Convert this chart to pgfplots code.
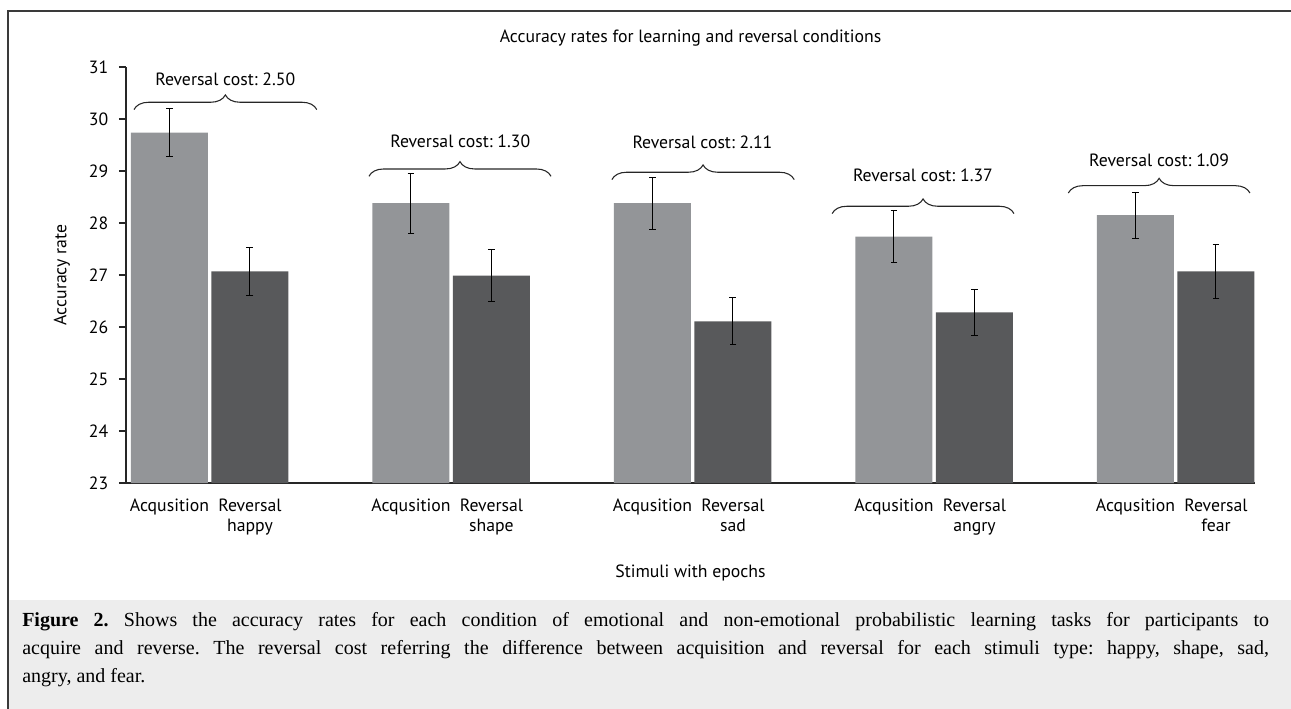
\documentclass[border=0pt]{standalone}
\usepackage{fontspec}
\setmainfont{Liberation Serif}
\newfontfamily\chartfont{PT Sans}
\usepackage{pgfplots}
\pgfplotsset{compat=1.18}
\usetikzlibrary{decorations.pathreplacing}
\definecolor{acq}{HTML}{939598}
\definecolor{rev}{HTML}{58595B}
\definecolor{capbg}{HTML}{EDEDED}
\definecolor{framec}{HTML}{3A3A3A}
\newcommand{\cf}{\chartfont\fontsize{13.3}{15}\selectfont}
\frenchspacing
\begin{document}
\begin{tikzpicture}
\begin{scope}[x=0.75pt,y=-0.75pt]
\useasboundingbox (0,0) rectangle (1291,709);
\fill[capbg] (8,600) rectangle (1291,709);
\draw[framec, line width=1pt] (8,709) -- (8,11) -- (1291,11);
\node[anchor=base west, inner sep=0pt, text width=935pt, align=justify, font=\fontsize{15}{21}\selectfont] at (22,626) {\textbf{Figure 2.} Shows the accuracy rates for each condition of emotional and non-emotional probabilistic learning tasks for participants to\linebreak acquire and reverse. The reversal cost referring the difference between acquisition and reversal for each stimuli type: happy, shape, sad,\linebreak angry, and fear.};
\end{scope}
\begin{axis}[
  at={(94.5pt,-362.25pt)}, anchor=south west,
  scale only axis, width=846.75pt, height=312pt,
  xmin=-0.18, xmax=4.495, ymin=23, ymax=31,
  axis x line*=bottom, axis y line*=left,
  axis line style={-, draw=black!85, line width=0.9pt},
  ytick={23,24,25,26,27,28,29,30,31},
  xtick={0,0.3333,1,1.3333,2,2.3333,3,3.3333,4,4.3333},
  xticklabels={Acqusition,{Reversal\\happy},Acqusition,{Reversal\\shape},Acqusition,{Reversal\\sad},Acqusition,{Reversal\\angry},Acqusition,{Reversal\\fear}},
  x tick style={draw=none},
  y tick style={draw=black!85, line width=0.9pt},
  tick align=outside, major tick length=5.25pt,
  tick label style={font=\cf},
  /pgf/number format/assume math mode=true,
  yticklabel style={xshift=-4.5pt},
  xticklabel style={align=center, yshift=-3pt},
  title={Accuracy rates for learning and reversal conditions},
  title style={font=\chartfont\fontsize{13.3}{15}\selectfont, at={(rel axis cs:0.5,1)}, anchor=base, yshift=12pt},
  xlabel={Stimuli with epochs},
  xlabel style={font=\cf, at={(rel axis cs:0.5,0)}, anchor=center, yshift=-67.5pt},
  ylabel={Accuracy rate},
  ylabel style={font=\cf, at={(axis description cs:-0.0567,0.5)}, anchor=center, rotate=0},
]
\addplot[ybar, bar width=0.319, fill=acq, draw=none,
  error bars/.cd, y dir=both, y explicit,
  error bar style={black, line width=0.75pt},
  error mark options={rotate=90, mark size=2.6pt, black, line width=0.75pt}]
  coordinates {(0,29.74) +- (0,0.46) (1,28.38) +- (0,0.575) (2,28.38) +- (0,0.50) (3,27.74) +- (0,0.505) (4,28.15) +- (0,0.445)};
\addplot[ybar, bar width=0.319, fill=rev, draw=none,
  error bars/.cd, y dir=both, y explicit,
  error bar style={black, line width=0.75pt},
  error mark options={rotate=90, mark size=2.6pt, black, line width=0.75pt}]
  coordinates {(0.3333,27.07) +- (0,0.465) (1.3333,26.99) +- (0,0.495) (2.3333,26.11) +- (0,0.455) (3.3333,26.28) +- (0,0.445) (4.3333,27.07) +- (0,0.52)};
\tikzset{br/.style={decorate, decoration={brace, amplitude=11pt}, line width=0.8pt, draw=black!85}}
\draw[br] (axis cs:-0.147,30.181) -- (axis cs:0.610,30.181);
\draw[br] (axis cs:0.826,28.898) -- (axis cs:1.580,28.898);
\draw[br] (axis cs:1.832,28.835) -- (axis cs:2.587,28.835);
\draw[br] (axis cs:2.744,28.181) -- (axis cs:3.497,28.181);
\draw[br] (axis cs:3.722,28.577) -- (axis cs:4.474,28.577);
\node[font=\cf, anchor=base] at (axis cs:0.231,30.648) {Reversal cost: 2.50};
\node[font=\cf, anchor=base] at (axis cs:1.204,29.456) {Reversal cost: 1.30};
\node[font=\cf, anchor=base] at (axis cs:2.207,29.437) {Reversal cost: 2.11};
\node[font=\cf, anchor=base] at (axis cs:3.120,28.802) {Reversal cost: 1.37};
\node[font=\cf, anchor=base] at (axis cs:4.098,29.090) {Reversal cost: 1.09};
\end{axis}
\end{tikzpicture}
\end{document}
